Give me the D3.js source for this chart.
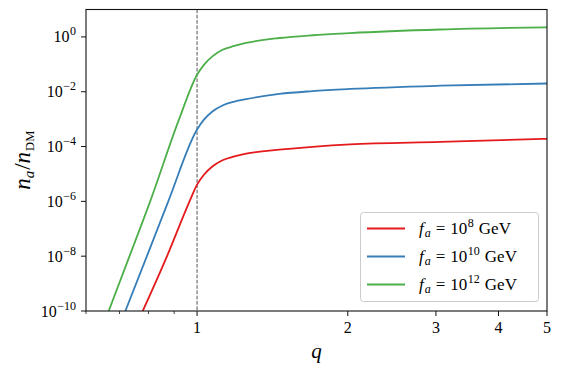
<!DOCTYPE html>
<html><head><meta charset="utf-8">
<script src="https://cdn.jsdelivr.net/npm/d3@7"></script>
<style>
body{margin:0;background:#fff;}
svg text{font-family:"Liberation Serif","Times New Roman",serif;fill:#000;}
</style></head>
<body><svg id="c" width="562" height="372"></svg>
<script>
// ---- data ----
const seriesLabels = ["8", "10", "12"];
const seriesColors = ["#e41a1c", "#377eb8", "#4daf4a"];
const redQ   = [0.779, 0.871, 0.966, 1.0, 1.033, 1.073, 1.124, 1.187, 1.253, 1.461, 1.70, 2.02, 3.06, 5.0];
const redV   = [1e-10, 1e-8, 1e-6, 4.07e-6, 9.55e-6, 1.86e-5, 3.16e-5, 4.37e-5, 5.50e-5, 7.76e-5, 9.77e-5, 1.20e-4, 1.48e-4, 1.91e-4];
const blueQ  = [0.719, 0.794, 0.876, 1.0, 1.033, 1.073, 1.124, 1.187, 1.253, 1.461, 1.70, 2.02, 3.06, 5.0];
const blueV  = [1e-10, 1e-8, 1e-6, 4.17e-4, 9.77e-4, 1.91e-3, 3.16e-3, 4.37e-3, 5.37e-3, 8.32e-3, 1.05e-2, 1.26e-2, 1.66e-2, 2.0e-2];
const greenQ = [0.666, 0.733, 0.806, 0.920, 1.0, 1.033, 1.073, 1.124, 1.187, 1.253, 1.461, 1.70, 2.02, 3.06, 5.0];
const greenV = [1e-10, 1e-8, 1e-6, 9.55e-4, 4.17e-2, 9.77e-2, 0.195, 0.339, 0.468, 0.603, 0.912, 1.15, 1.38, 1.86, 2.24];
const xMajorTicks = [1, 2, 3, 4, 5];
const xMinorTicks = [0.6, 0.7, 0.8, 0.9];
const yTickExps = [0, -2, -4, -6, -8, -10];

const series = [
  {q: redQ, v: redV},
  {q: blueQ, v: blueV},
  {q: greenQ, v: greenV}
];

const svg = d3.select("#c");
const L = 86, R = 547, T = 9.5, B = 311;
const x = d3.scaleLog().domain([0.6, 5]).range([L, R]);
const y = d3.scaleLog().domain([1e-10, 1e1]).range([B, T]);

svg.append("defs").append("clipPath").attr("id", "clip")
  .append("rect").attr("x", L).attr("y", T).attr("width", R - L).attr("height", B - T);

// dashed line at q = 1
svg.append("line").attr("x1", x(1)).attr("x2", x(1)).attr("y1", T).attr("y2", B)
  .attr("stroke", "#555").attr("stroke-width", 1).attr("stroke-dasharray", "3.7,1.6");

const line = d3.line().x(d => x(d[0])).y(d => y(d[1])).curve(d3.curveMonotoneX);
const g = svg.append("g").attr("clip-path", "url(#clip)");
series.forEach((s, i) => {
  g.append("path").datum(s.q.map((q, j) => [q, s.v[j]]))
    .attr("d", line).attr("fill", "none")
    .attr("stroke", seriesColors[i]).attr("stroke-width", 1.8)
    .attr("stroke-linejoin", "round");
});

// frame
svg.append("rect").attr("x", L).attr("y", T).attr("width", R - L).attr("height", B - T)
  .attr("fill", "none").attr("stroke", "#111").attr("stroke-width", 1.1);

// x axis
const xAxis = svg.append("g");
xMajorTicks.forEach(t => {
  xAxis.append("line").attr("x1", x(t)).attr("x2", x(t)).attr("y1", B).attr("y2", B + 5)
    .attr("stroke", "#111").attr("stroke-width", 1);
  xAxis.append("text").attr("x", x(t)).attr("y", 333).attr("text-anchor", "middle")
    .attr("font-size", 16).text(t);
});
xMinorTicks.forEach(t => {
  xAxis.append("line").attr("x1", x(t)).attr("x2", x(t)).attr("y1", B).attr("y2", B + 3)
    .attr("stroke", "#111").attr("stroke-width", 0.8);
});
svg.append("text").attr("x", (L + R) / 2).attr("y", 358).attr("text-anchor", "middle")
  .attr("font-size", 21).attr("font-style", "italic").text("q");

// y axis
yTickExps.forEach(e => {
  const yy = y(Math.pow(10, e));
  svg.append("line").attr("x1", L - 5).attr("x2", L).attr("y1", yy).attr("y2", yy)
    .attr("stroke", "#111").attr("stroke-width", 1);
  const t = svg.append("text").attr("x", 76).attr("y", yy + 5.5).attr("text-anchor", "end")
    .attr("font-size", 16);
  t.append("tspan").text("10");
  t.append("tspan").attr("dy", -7).attr("dx", 0.5).attr("font-size", 12).text(e === 0 ? "0" : "\u2212" + (-e));
});

// y label
const yl = svg.append("text").attr("transform", "translate(30," + ((T + B) / 2) + ") rotate(-90)")
  .attr("text-anchor", "middle").attr("font-size", 23);
yl.append("tspan").attr("font-style", "italic").text("n");
yl.append("tspan").attr("font-style", "italic").attr("font-size", 15).attr("dy", 4).text("a");
yl.append("tspan").attr("dy", -4).attr("dx", 1).text("/");
yl.append("tspan").attr("font-style", "italic").text("n");
yl.append("tspan").attr("font-size", 12.5).attr("dy", 4).attr("dx", 1).text("DM");

// legend
const lg = svg.append("g");
lg.append("rect").attr("x", 360.5).attr("y", 212.5).attr("width", 178).attr("height", 89)
  .attr("rx", 3).attr("fill", "#fff").attr("fill-opacity", 0.85)
  .attr("stroke", "#ccc").attr("stroke-width", 1);
seriesLabels.forEach((lab, i) => {
  const yy = 228.5 + i * 28;
  lg.append("line").attr("x1", 367).attr("x2", 405).attr("y1", yy).attr("y2", yy)
    .attr("stroke", seriesColors[i]).attr("stroke-width", 1.8);
  const t = lg.append("text").attr("x", 419).attr("y", yy + 5.5).attr("font-size", 17);
  t.append("tspan").attr("font-style", "italic").text("f");
  t.append("tspan").attr("font-style", "italic").attr("font-size", 12).attr("dy", 3).attr("dx", 1).text("a");
  t.append("tspan").attr("dy", -3).attr("dx", 5).text("=");
  t.append("tspan").attr("dx", 5).text("10");
  t.append("tspan").attr("font-size", 12).attr("dy", -7).attr("dx", 0.5).text(lab);
  t.append("tspan").attr("dy", 7).attr("dx", 5).text("GeV");
});
</script></body></html>
